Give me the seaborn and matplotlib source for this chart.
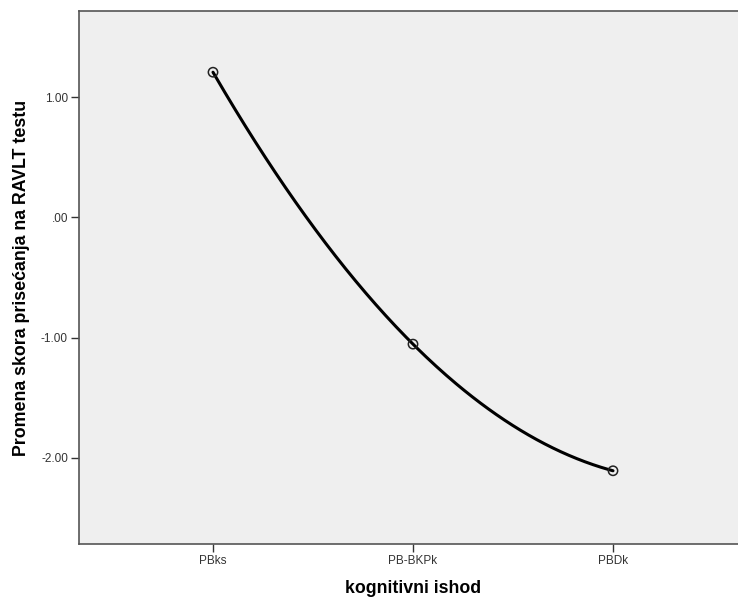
import numpy as np
import pandas as pd
import matplotlib
matplotlib.use("Agg")
import matplotlib.pyplot as plt
import seaborn as sns

# Data
categories = ["PBks", "PB-BKPk", "PBDk"]
values = [1.21, -1.055, -2.11]
y_ticks = [1.0, 0.0, -1.0, -2.0]
y_tick_labels = ["1.00", ".00", "-1.00", "-2.00"]

sns.set_theme(style="white")
plt.rcParams["font.family"] = ["Liberation Sans", "DejaVu Sans"]

fig = plt.figure(figsize=(7.38, 5.99), dpi=100)
ax = fig.add_axes([79 / 738, 55 / 599, (747 - 79) / 738, (544 - 11) / 599])
ax.set_facecolor("#efefef")

pos = np.arange(len(categories))
# smooth curve through the three means (quadratic through the points)
coef = np.polyfit(pos, values, 2)
xs = np.linspace(pos[0], pos[-1], 200)
curve = pd.DataFrame({"x": xs, "y": np.polyval(coef, xs)})
sns.lineplot(data=curve, x="x", y="y", ax=ax, color="black", linewidth=2.2)

pts = pd.DataFrame({"x": pos, "y": values})
sns.scatterplot(data=pts, x="x", y="y", ax=ax, s=45, facecolor="none",
                edgecolor="#222222", linewidth=1.1, zorder=5)

ax.set_xlim(-0.67, 2.67)
ax.set_ylim(-2.72, 1.72)
ax.set_xticks(pos)
ax.set_xticklabels(categories, fontsize=8.5, color="#333333")
ax.set_yticks(y_ticks)
ax.set_yticklabels(y_tick_labels, fontsize=8.5, color="#333333")
ax.tick_params(axis="both", length=6, width=1, color="#333333", direction="out",
               bottom=True, left=True, pad=2)

for side in ["left", "bottom", "top", "right"]:
    ax.spines[side].set_color("#555555")
    ax.spines[side].set_linewidth(1.2)

ax.set_xlabel("kognitivni ishod", fontsize=12.8, fontweight="bold",
              labelpad=9, color="black")
ax.set_ylabel("Promena skora prisećanja na RAVLT testu", fontsize=12.8,
              fontweight="bold", labelpad=8, color="black")

fig.savefig("out.png", dpi=100)
